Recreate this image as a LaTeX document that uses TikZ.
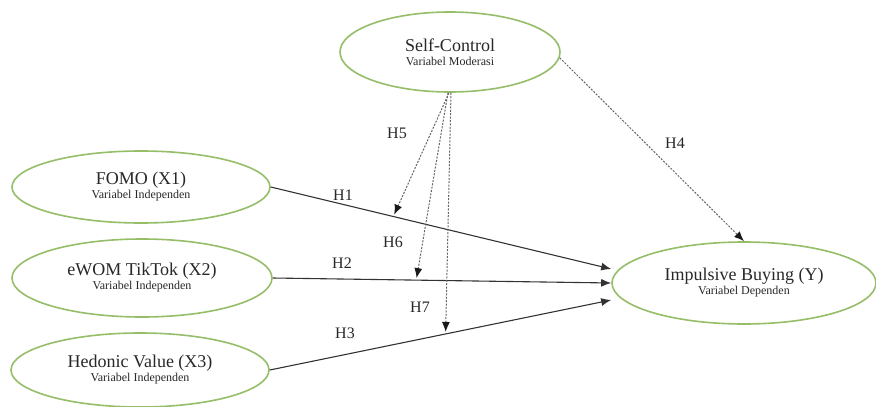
\documentclass[tikz,border=0pt]{standalone}
\usepackage{fontspec}
\setmainfont{Liberation Serif}
\usetikzlibrary{shapes.geometric,arrows.meta,calc}
\definecolor{ellgreen}{RGB}{150,190,105}
\definecolor{txtgray}{RGB}{40,40,40}
\begin{document}
\begin{tikzpicture}[x=1pt,y=-1pt,
  varnode/.style={ellipse,draw=ellgreen,line width=1.6pt,inner sep=0pt,align=center,
    text=txtgray,font=\fontsize{12}{14}\selectfont},
  solidarrow/.style={draw=black!80,line width=1.1pt,-{Latex[length=10pt,width=8pt]}},
  dotarrow/.style={draw=black!60,line width=1pt,dash pattern=on 2pt off 1.4pt,
    -{Latex[length=10pt,width=8pt,fill=black!90,color=black!90]}},
  hlabel/.style={text=txtgray,font=\fontsize{16}{16}\selectfont,inner sep=0pt}]
\useasboundingbox (0,0) rectangle (876,407);
\fill[white] (0,0) rectangle (876,407);
% nodes
\node[varnode,minimum width=220pt,minimum height=80pt] (sc) at (450,52)
  {{\fontsize{18}{14}\selectfont Self-Control}\\Variabel Moderasi};
\node[varnode,minimum width=258pt,minimum height=72pt] (fomo) at (141,187)
  {{\fontsize{18}{14}\selectfont FOMO (X1)}\\Variabel Independen};
\node[varnode,minimum width=260pt,minimum height=78pt] (ewom) at (142,278)
  {{\fontsize{18}{14}\selectfont eWOM TikTok (X2)}\\Variabel Independen};
\node[varnode,minimum width=258pt,minimum height=74pt] (hed) at (140,370)
  {{\fontsize{18}{14}\selectfont Hedonic Value (X3)}\\Variabel Independen};
\node[varnode,minimum width=264pt,minimum height=82pt] (imp) at (744,283)
  {{\fontsize{18}{14}\selectfont Impulsive Buying (Y)}\\Variabel Dependen};
% target points on imp
\coordinate (i1) at ([yshift=14pt]imp.west);
\coordinate (i3) at ([yshift=-17pt]imp.west);
% direct paths
\draw[solidarrow] (fomo.east) -- (i1);
\draw[solidarrow] (ewom.east) -- (imp.west);
\draw[solidarrow] (hed.east) -- (i3);
% moderation targets
\coordinate (t5) at ($(fomo.east)!0.36!(i1)$);
\coordinate (t6) at ($(ewom.east)!0.424!(imp.west)$);
\coordinate (t7) at ($(hed.east)!0.515!(i3)$);
\draw[dotarrow,shorten >=2pt] ([xshift=-1pt]sc.south) -- (t5);
\draw[dotarrow,shorten >=2pt] ([xshift=-2pt]sc.south) -- (t6);
\draw[dotarrow,shorten >=2pt] ([xshift=1pt]sc.south) -- (t7);
\draw[dotarrow] (sc.-3) -- (imp.north);
% labels
\node[hlabel] (h1) at (343,195) {H1};
\node[hlabel] (h2) at (342,263) {H2};
\node[hlabel] (h3) at (345,333) {H3};
\node[hlabel] (h4) at (675,143) {H4};
\node[hlabel] (h5) at (397,133) {H5};
\node[hlabel] (h6) at (393,242) {H6};
\node[hlabel] (h7) at (420,307) {H7};
\end{tikzpicture}
\end{document}
